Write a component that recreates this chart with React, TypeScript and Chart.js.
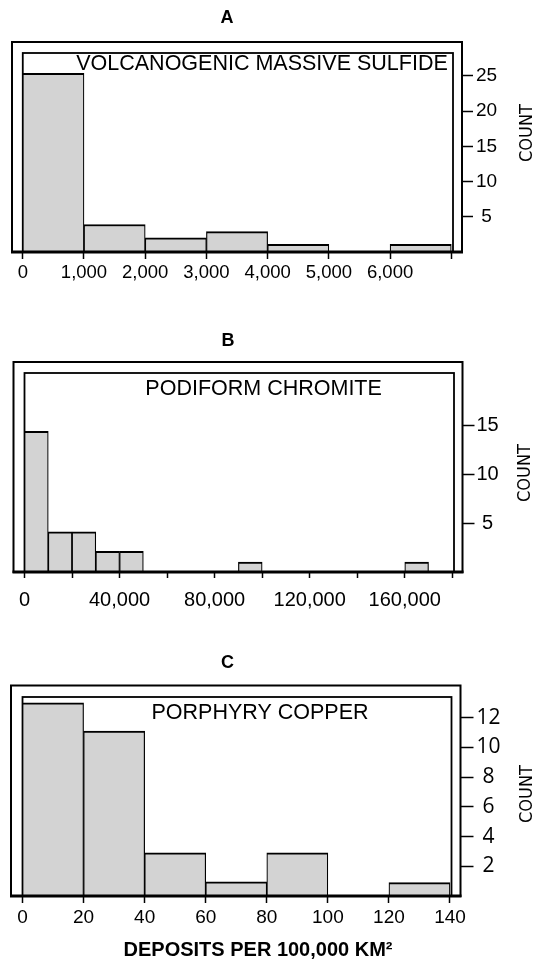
import React, { useEffect, useRef } from 'react';
import { Chart, registerables } from 'chart.js';

Chart.register(...registerables);

// ---------- Data ----------
// Panel A: volcanogenic massive sulfide
const A_BIN_STARTS = [0, 1000, 2000, 3000, 4000, 5000, 6000];
const A_BIN_WIDTH = 1000;
const A_COUNTS = [25.35, 3.9, 2, 2.9, 1.1, 0, 1.1];
const A_X_TICKS = [0, 1000, 2000, 3000, 4000, 5000, 6000, 7000];
const A_X_LABELS = ['0', '1,000', '2,000', '3,000', '4,000', '5,000', '6,000', ''];
const A_Y_TICKS = [5, 10, 15, 20, 25];

// Panel B: podiform chromite
const B_BIN_STARTS = [0, 10000, 20000, 30000, 40000, 50000, 60000, 70000, 80000, 90000, 100000, 110000, 120000, 130000, 140000, 150000, 160000];
const B_BIN_WIDTH = 10000;
const B_COUNTS = [14.35, 4.1, 4.1, 2.1, 2.1, 0, 0, 0, 0, 1, 0, 0, 0, 0, 0, 0, 1];
const B_X_TICKS = [0, 20000, 40000, 60000, 80000, 100000, 120000, 140000, 160000, 180000];
const B_X_LABELS = ['0', '', '40,000', '', '80,000', '', '120,000', '', '160,000', ''];
const B_Y_TICKS = [5, 10, 15];

// Panel C: porphyry copper
const C_BIN_STARTS = [0, 20, 40, 60, 80, 100, 120];
const C_BIN_WIDTH = 20;
const C_COUNTS = [13, 11.1, 2.9, 0.95, 2.9, 0, 0.9];
const C_X_TICKS = [0, 20, 40, 60, 80, 100, 120, 140];
const C_X_LABELS = ['0', '20', '40', '60', '80', '100', '120', '140'];
const C_Y_TICKS = [2, 4, 6, 8, 10, 12];

const PANEL_LETTERS = ['A', 'B', 'C'];
const DEPOSIT_TYPES = ['VOLCANOGENIC MASSIVE SULFIDE', 'PODIFORM CHROMITE', 'PORPHYRY COPPER'];
const Y_AXIS_TITLE = 'COUNT';
const X_AXIS_TITLE = 'DEPOSITS PER 100,000 KM\u00B2';

// ---------- Styling helpers ----------
const SANS = "'Liberation Sans', Arial, Helvetica, sans-serif";

function fontAvailable(name: string): boolean {
  try {
    const c = document.createElement('canvas').getContext('2d');
    if (!c) return false;
    const t = 'COUNT mmwwiilWQ 0123';
    c.font = '40px monospace';
    const w1 = c.measureText(t).width;
    c.font = `40px "${name}", monospace`;
    const w2 = c.measureText(t).width;
    c.font = '40px serif';
    const w3 = c.measureText(t).width;
    c.font = `40px "${name}", serif`;
    const w4 = c.measureText(t).width;
    return w1 !== w2 && w3 !== w4;
  } catch (e) {
    return false;
  }
}

let COUNT_FONT = `17px ${SANS}`;
if (typeof document !== 'undefined') {
  if (fontAvailable('Liberation Sans Narrow')) COUNT_FONT = `20px 'Liberation Sans Narrow'`;
  else if (fontAvailable('DejaVu Sans Condensed')) COUNT_FONT = `18px 'DejaVu Sans Condensed'`;
}

function drawCentered(ctx: CanvasRenderingContext2D, text: string, cx: number, cy: number, size: number, bold: boolean, family = SANS) {
  ctx.font = `${bold ? 'bold ' : ''}${size}px ${family}`;
  ctx.textAlign = 'center';
  ctx.textBaseline = 'alphabetic';
  ctx.fillText(text, cx, cy + size * 0.358);
}

const panelDecor = {
  id: 'panelDecor',
  beforeDatasetsDraw(chart: any, _args: any, opts: any) {
    const { ctx, chartArea: a, scales } = chart;
    ctx.save();
    ctx.strokeStyle = '#000';
    const x0 = scales.x.getPixelForValue(0);
    ctx.lineWidth = 1.8;
    ctx.strokeRect(x0, a.top + opts.innerTop, a.right - opts.innerRight - x0, a.bottom - a.top - opts.innerTop);
    ctx.lineWidth = 2;
    ctx.strokeRect(a.left, a.top, a.right - a.left, a.bottom - a.top);
    ctx.restore();
  },
  afterDatasetsDraw(chart: any) {
    const { ctx, chartArea: a } = chart;
    ctx.save();
    ctx.strokeStyle = '#000';
    ctx.lineWidth = 3;
    ctx.beginPath();
    ctx.moveTo(a.left - 1, a.bottom);
    ctx.lineTo(a.right + 1, a.bottom);
    ctx.stroke();
    ctx.restore();
  },
  afterDraw(chart: any, _args: any, opts: any) {
    const { ctx } = chart;
    ctx.save();
    ctx.fillStyle = '#000';
    drawCentered(ctx, opts.letter, opts.letterX, opts.letterY, 18, true);
    drawCentered(ctx, opts.name, opts.nameX, opts.nameY, 21.5, false);
    // rotated y title
    ctx.save();
    ctx.translate(opts.countX, opts.countY);
    ctx.rotate(-Math.PI / 2);
    ctx.font = COUNT_FONT;
    ctx.textAlign = 'center';
    ctx.textBaseline = 'middle';
    ctx.fillText(Y_AXIS_TITLE, 0, 1);
    ctx.restore();
    if (opts.xTitle) {
      drawCentered(ctx, opts.xTitle, opts.xTitleX, opts.xTitleY, 20, true);
    }
    ctx.restore();
  },
};

interface PanelCfg {
  top: number;
  height: number;
  padLeft: number;
  padTop: number;
  yWidth: number;
  xHeight: number;
  xMin: number;
  xMax: number;
  yMax: number;
  starts: number[];
  binWidth: number;
  counts: number[];
  xTicks: number[];
  xLabels: string[];
  yTicks: number[];
  xTickLen: number;
  xTickPad: number;
  xFontSize: number;
  yTickLen: number;
  yTickPad: number;
  yFont: { size: number; family: string };
  decor: any;
}

const PANELS: PanelCfg[] = [
  {
    top: 0, height: 300, padLeft: 12, padTop: 42, yWidth: 72, xHeight: 48,
    xMin: -176, xMax: 7175, yMax: 29.8,
    starts: A_BIN_STARTS, binWidth: A_BIN_WIDTH, counts: A_COUNTS,
    xTicks: A_X_TICKS, xLabels: A_X_LABELS, yTicks: A_Y_TICKS,
    xTickLen: 7, xTickPad: 3, xFontSize: 18.5,
    yTickLen: 11, yTickPad: 3, yFont: { size: 19, family: SANS },
    decor: { letter: PANEL_LETTERS[0], letterX: 227, letterY: 16.3, name: DEPOSIT_TYPES[0], nameX: 262, nameY: 62.5, countX: 526, countY: 133, innerTop: 11, innerRight: 9 },
  },
  {
    top: 320, height: 300, padLeft: 13.5, padTop: 42, yWidth: 71.5, xHeight: 48,
    xMin: -4628, xMax: 184292, yMax: 21.43,
    starts: B_BIN_STARTS, binWidth: B_BIN_WIDTH, counts: B_COUNTS,
    xTicks: B_X_TICKS, xLabels: B_X_LABELS, yTicks: B_Y_TICKS,
    xTickLen: 6, xTickPad: 10, xFontSize: 20,
    yTickLen: 12, yTickPad: 2, yFont: { size: 20, family: SANS },
    decor: { letter: PANEL_LETTERS[1], letterX: 228, letterY: 19.5, name: DEPOSIT_TYPES[1], nameX: 263.6, nameY: 67.4, countX: 524, countY: 153, innerTop: 11, innerRight: 8.5 },
  },
  {
    top: 640, height: 321, padLeft: 11, padTop: 45.5, yWidth: 73.5, xHeight: 65,
    xMin: -3.77, xMax: 143.44, yMax: 14.17,
    starts: C_BIN_STARTS, binWidth: C_BIN_WIDTH, counts: C_COUNTS,
    xTicks: C_X_TICKS, xLabels: C_X_LABELS, yTicks: C_Y_TICKS,
    xTickLen: 7, xTickPad: 3, xFontSize: 19,
    yTickLen: 13, yTickPad: 3, yFont: { size: 21, family: "'Open Sans', " + SANS },
    decor: { letter: PANEL_LETTERS[2], letterX: 227.5, letterY: 22, name: DEPOSIT_TYPES[2], nameX: 260, nameY: 71.5, countX: 526, countY: 154, innerTop: 11.5, innerRight: 9, xTitle: X_AXIS_TITLE, xTitleX: 258, xTitleY: 309 },
  },
];

function Panel({ cfg }: { cfg: PanelCfg }) {
  const ref = useRef<HTMLCanvasElement>(null);
  useEffect(() => {
    const canvas = ref.current;
    if (!canvas) return;
    const data = cfg.starts.map((s, i) => ({ x: s + cfg.binWidth / 2, y: cfg.counts[i] }));
    const chart = new Chart(canvas, {
      type: 'bar',
      data: {
        datasets: [
          {
            data: data as any,
            backgroundColor: '#d3d3d3',
            borderColor: '#000',
            borderWidth: { top: 2, left: 1.2, right: 1.2, bottom: 0 } as any,
            borderSkipped: false,
            barPercentage: 1,
            categoryPercentage: 1,
          },
        ],
      },
      options: {
        responsive: false,
        animation: false,
        devicePixelRatio: 1,
        layout: { padding: { left: cfg.padLeft, top: cfg.padTop, right: 0, bottom: 0 } },
        plugins: {
          legend: { display: false },
          title: { display: false },
          tooltip: { enabled: false },
          panelDecor: cfg.decor,
        } as any,
        scales: {
          x: {
            type: 'linear',
            min: cfg.xMin,
            max: cfg.xMax,
            offset: false,
            afterBuildTicks: (s: any) => {
              s.ticks = cfg.xTicks.map((v) => ({ value: v }));
            },
            afterFit: (s: any) => {
              s.height = cfg.xHeight;
            },
            grid: {
              display: true,
              offset: false,
              drawOnChartArea: false,
              drawTicks: true,
              tickLength: cfg.xTickLen,
              tickWidth: 1.5,
              tickColor: '#000',
              color: '#000',
            },
            border: { display: false },
            ticks: {
              autoSkip: false,
              maxRotation: 0,
              minRotation: 0,
              padding: cfg.xTickPad,
              color: '#000',
              font: { size: cfg.xFontSize, family: SANS },
              callback: (_v: any, i: number) => cfg.xLabels[i],
            },
          },
          y: {
            type: 'linear',
            position: 'right',
            min: 0,
            max: cfg.yMax,
            afterBuildTicks: (s: any) => {
              s.ticks = cfg.yTicks.map((v) => ({ value: v }));
            },
            afterFit: (s: any) => {
              s.width = cfg.yWidth;
            },
            grid: {
              display: true,
              drawOnChartArea: false,
              drawTicks: true,
              tickLength: cfg.yTickLen,
              tickWidth: 1.5,
              tickColor: '#000',
              color: '#000',
            },
            border: { display: false },
            ticks: {
              autoSkip: false,
              crossAlign: 'center',
              padding: cfg.yTickPad,
              color: '#000',
              font: cfg.yFont,
              callback: (v: any) => String(v),
            },
          },
        } as any,
      },
      plugins: [panelDecor as any],
    });
    return () => chart.destroy();
  }, [cfg]);
  return (
    <canvas
      ref={ref}
      width={534}
      height={cfg.height}
      style={{ position: 'absolute', left: 0, top: cfg.top, width: 534, height: cfg.height, display: 'block' }}
    />
  );
}

export default function App() {
  return (
    <div style={{ position: 'absolute', left: 0, top: 0, width: 534, height: 961, background: '#fff', overflow: 'hidden' }}>
      {PANELS.map((p, i) => (
        <Panel key={i} cfg={p} />
      ))}
    </div>
  );
}
